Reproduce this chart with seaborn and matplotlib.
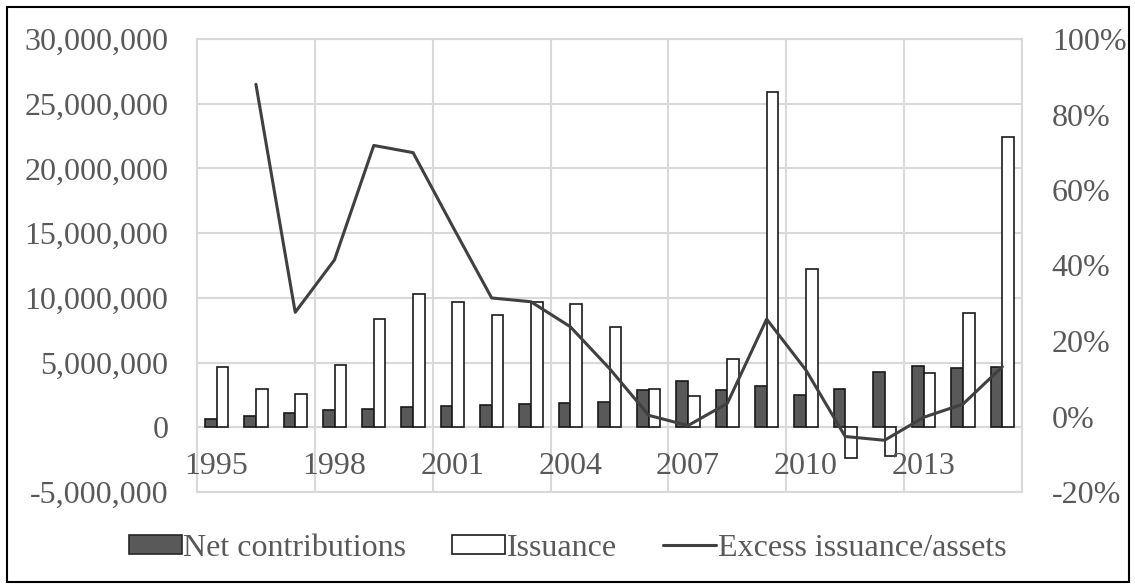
import numpy as np
import pandas as pd
import matplotlib
matplotlib.use("Agg")
import matplotlib.pyplot as plt
from matplotlib.ticker import FuncFormatter, FixedLocator
from matplotlib.patches import Patch, Rectangle
from matplotlib.lines import Line2D
import seaborn as sns

# Annual flows (dollars) and the excess issuance ratio (percent of assets)
years = list(range(1995, 2016))
net_contributions = [620000, 850000, 1100000, 1340000, 1420000, 1570000, 1620000,
                     1720000, 1780000, 1850000, 1930000, 2880000, 3580000, 2860000,
                     3220000, 2470000, 2990000, 4250000, 4740000, 4560000, 4690000]
issuance = [4690000, 2990000, 2600000, 4820000, 8350000, 10280000, 9710000,
            8660000, 9660000, 9560000, 7780000, 2960000, 2400000, 5260000,
            25900000, 12200000, -2340000, -2240000, 4220000, 8810000, 22400000]
excess_pct = [np.nan, 88.0, 27.6, 41.5, 71.8, 69.9, 50.5, 31.4, 30.4, 23.8, 12.7,
              0.3, -2.4, 3.5, 25.8, 12.3, -5.3, -6.3, -0.2, 3.3, 13.2]
year_labels = [1995, 1998, 2001, 2004, 2007, 2010, 2013]
left_ticks = [-5000000, 0, 5000000, 10000000, 15000000, 20000000, 25000000, 30000000]
right_ticks = [-20, 0, 20, 40, 60, 80, 100]

sns.set_theme(style="white")
plt.rcParams["font.family"] = ["Liberation Serif", "DejaVu Serif"]

TXT = "#595959"
GRID = "#d9d9d9"
FS = 23

bars = pd.DataFrame({
    "year": [str(y) for y in years] * 2,
    "value": net_contributions + issuance,
    "series": ["Net contributions"] * len(years) + ["Issuance"] * len(years),
})

fig = plt.figure(figsize=(11.35, 5.88), dpi=100)
ax = fig.add_axes([197 / 1135, 1 - 492 / 588, (1022 - 197) / 1135, (492 - 39) / 588])

sns.barplot(data=bars, x="year", y="value", hue="series",
            hue_order=["Net contributions", "Issuance"],
            palette={"Net contributions": "#595959", "Issuance": "white"},
            width=0.59, edgecolor="#1a1a1a", linewidth=1.2,
            legend=False, ax=ax, zorder=3)

ax.set_ylim(-5000000, 30000000)
ax.set_xlim(-0.5, len(years) - 0.5)
ax.yaxis.set_major_locator(FixedLocator(left_ticks))
ax.yaxis.set_major_formatter(FuncFormatter(lambda v, p: f"{v:,.0f}"))
ax.set_xticks([])
ax.xaxis.set_minor_locator(FixedLocator(np.arange(-0.5, len(years), 3)))
ax.grid(axis="y", which="major", color=GRID, lw=1.5, zorder=0)
ax.grid(axis="x", which="minor", color=GRID, lw=1.5, zorder=0)
ax.set_axisbelow(True)
ax.tick_params(axis="y", which="both", length=0, pad=20.5, labelsize=FS, labelcolor=TXT)
ax.tick_params(axis="x", which="both", length=0)
ax.set_xlabel("")
ax.set_ylabel("")
for s in ax.spines.values():
    s.set_color(GRID)
    s.set_linewidth(1.5)

# Year labels sit just under the zero line
for y in year_labels:
    ax.annotate(str(y), xy=(years.index(y), 0), xycoords="data",
                xytext=(0, -28), textcoords="offset points",
                ha="center", va="center", fontsize=FS, color=TXT)

ax2 = ax.twinx()
sns.lineplot(x=np.arange(len(years)), y=excess_pct, ax=ax2, color="#404040",
             lw=2.2, legend=False)
ax2.set_ylim(-20, 100)
ax2.set_xlim(-0.5, len(years) - 0.5)
ax2.yaxis.set_major_locator(FixedLocator(right_ticks))
ax2.yaxis.set_major_formatter(FuncFormatter(lambda v, p: f"{v:.0f}%"))
ax2.tick_params(axis="y", length=0, pad=21.5, labelsize=FS, labelcolor=TXT)
ax2.set_ylabel("")
for s in ax2.spines.values():
    s.set_visible(False)

handles = [
    Patch(facecolor="#595959", edgecolor="#262626", lw=1.2, label="Net contributions"),
    Patch(facecolor="white", edgecolor="#1a1a1a", lw=1.2, label="Issuance"),
    Line2D([0], [0], color="#404040", lw=2.2, label="Excess issuance/assets"),
]
leg = fig.legend(handles=handles, loc="center", bbox_to_anchor=(0.5, 1 - 548 / 588),
                 ncol=3, frameon=False, fontsize=FS, handlelength=1.65,
                 handleheight=0.55, handletextpad=0.05, columnspacing=1.45)
for t in leg.get_texts():
    t.set_color(TXT)

fig.patches.append(Rectangle((7 / 1135, 1 - 582 / 588), 1122 / 1135, 575 / 588,
                             transform=fig.transFigure, fill=False,
                             edgecolor="black", lw=1.5))

fig.savefig("out.png", dpi=100)
